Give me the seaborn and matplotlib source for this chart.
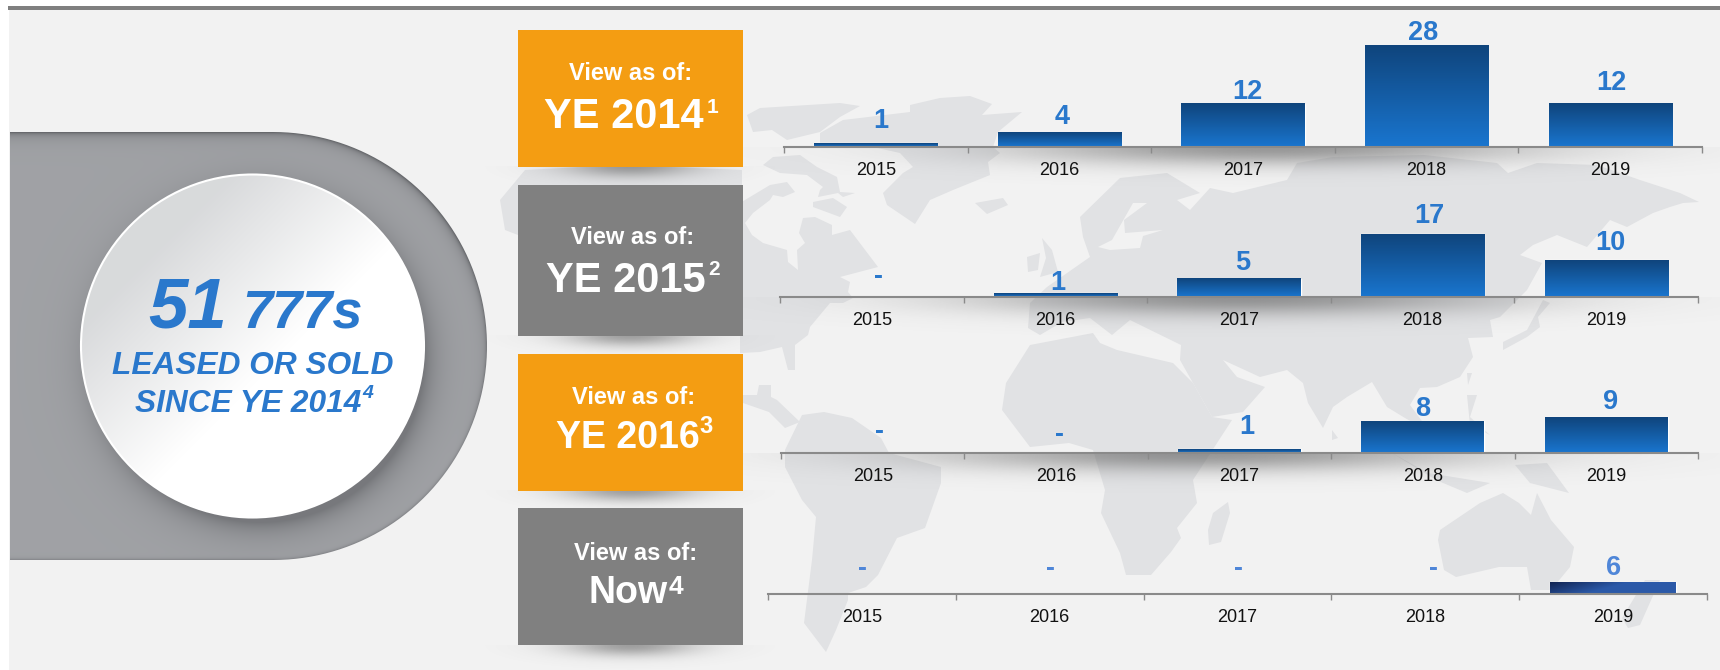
import numpy as np
import pandas as pd
import matplotlib
matplotlib.use("Agg")
import matplotlib.pyplot as plt
from matplotlib.patches import Circle, PathPatch, Polygon, Rectangle
from matplotlib.path import Path
import seaborn as sns

years = ["2015", "2016", "2017", "2018", "2019"]
values_2014 = [1, 4, 12, 28, 12]
values_2015 = [0, 1, 5, 17, 10]
values_2016 = [0, 0, 1, 8, 9]
values_now = [0, 0, 0, 0, 6]
box_titles = ["YE 2014", "YE 2015", "YE 2016", "Now"]
box_notes = ["1", "2", "3", "4"]

W, H = 1720, 670
BLUE = "#2a78cc"
LAND = "#e1e2e4"
BACK = "#f2f2f2"

# x0, x1, axis y, px per unit, label offsets (dx, gap above bar)
panels = [
    dict(values=values_2014, x0=784, x1=1702, y=147, unit=3.62, label=BLUE,
         off=[(5, 15), (3, 9), (4, 5), (-3, 6), (1, 14)]),
    dict(values=values_2015, x0=780, x1=1698, y=297, unit=3.7, label=BLUE,
         off=[(7, 13), (2, 3), (4, 9), (7, 11), (4, 10)]),
    dict(values=values_2016, x0=781, x1=1698, y=453, unit=4.0, label=BLUE,
         off=[(7, 14), (3, 11), (7, 15), (0, 5), (4, 8)]),
    dict(values=values_now, x0=768, x1=1707, y=594, unit=2.0, label="#4f86d8",
         off=[(1, 18), (1, 18), (1, 18), (8, 18), (0, 7)]),
]

# box top, bottom, colour, "View" centre x/y, title centre x, baseline, size, note x, note baseline, note size
boxes = [
    (30, 167, "#f49d12", 631, 73, 624, 128, 30, 712, 113, 15),
    (185, 336, "#808080", 633, 237, 626, 292, 30, 714, 275, 15),
    (354, 491, "#f49d12", 634, 398, 628, 448, 27, 706, 433, 17),
    (508, 645, "#808080", 636, 553, 628, 603, 27, 676, 594, 19),
]

# world map backdrop, rough outline in pixels
land = [
    # strip between and left of the boxes
    [(500, 200), (525, 170), (620, 165), (742, 170), (742, 190), (518, 190), (518, 235), (505, 230)],
    # arctic islands
    [(747, 115), (760, 108), (840, 103), (860, 106), (840, 117), (820, 132), (787, 140), (772, 130), (753, 132)],
    [(763, 165), (773, 157), (800, 155), (817, 167), (837, 177), (840, 192), (855, 193), (843, 197),
     (838, 193), (818, 197), (820, 190), (823, 187), (807, 175), (780, 173)],
    [(813, 202), (833, 198), (847, 207), (840, 217), (813, 207)],
    # greenland
    [(820, 133), (843, 120), (860, 118), (910, 112), (910, 105), (940, 98), (970, 96), (992, 104),
     (982, 115), (1022, 112), (998, 132), (993, 147), (1000, 153), (988, 162), (990, 175), (953, 190),
     (930, 200), (915, 224), (887, 205), (883, 193), (903, 173), (913, 167), (900, 153), (873, 147), (820, 146)],
    # iceland
    [(975, 203), (1003, 198), (1008, 205), (987, 214)],
    # north america
    [(740, 203), (770, 185), (787, 182), (795, 192), (783, 197), (773, 195), (770, 200), (753, 213),
     (745, 223), (752, 235), (763, 243), (787, 250), (788, 262), (798, 270), (797, 250), (805, 243),
     (799, 233), (803, 218), (815, 217), (832, 225), (832, 235), (850, 230), (878, 267), (840, 277),
     (850, 282), (848, 292), (853, 298), (843, 303), (830, 303), (810, 327), (808, 335), (795, 345),
     (795, 370), (788, 370), (782, 347), (760, 352), (740, 353)],
    # central america
    [(743, 395), (757, 395), (759, 385), (771, 385), (771, 397), (777, 400), (800, 422), (785, 428),
     (769, 412), (743, 403)],
    # south america
    [(785, 450), (802, 415), (824, 412), (852, 418), (881, 438), (889, 453), (941, 467), (941, 483),
     (925, 528), (897, 538), (878, 575), (866, 587), (848, 593), (848, 600), (836, 630), (826, 652),
     (804, 623), (812, 560), (816, 517), (802, 500), (785, 467)],
    # africa
    [(1030, 345), (1006, 383), (1002, 410), (1030, 447), (1069, 443), (1093, 450), (1105, 490),
     (1101, 513), (1120, 553), (1126, 575), (1151, 575), (1171, 552), (1181, 538), (1177, 528),
     (1197, 503), (1193, 480), (1232, 420), (1212, 417), (1193, 383), (1173, 363), (1117, 350),
     (1100, 343), (1093, 333)],
    # madagascar
    [(1228, 502), (1230, 513), (1221, 542), (1209, 545), (1208, 530), (1213, 513)],
    # eurasia
    [(1083, 237), (1080, 217), (1120, 178), (1167, 173), (1200, 193), (1177, 200), (1190, 210),
     (1210, 188), (1233, 193), (1287, 180), (1297, 163), (1333, 157), (1424, 155), (1497, 163),
     (1508, 173), (1537, 163), (1597, 165), (1640, 180), (1680, 193), (1699, 202), (1683, 203),
     (1670, 207), (1653, 213), (1627, 227), (1610, 220), (1587, 247), (1557, 235), (1533, 245),
     (1520, 255), (1542, 263), (1527, 290), (1500, 317), (1490, 320), (1493, 337), (1468, 338),
     (1473, 357), (1460, 377), (1437, 387), (1420, 388), (1410, 405), (1430, 432), (1405, 418),
     (1387, 407), (1372, 382), (1347, 397), (1333, 407), (1323, 428), (1308, 403), (1303, 383),
     (1287, 370), (1260, 377), (1223, 360), (1237, 377), (1265, 387), (1243, 412), (1212, 417),
     (1193, 383), (1180, 360), (1181, 345), (1130, 320), (1112, 335), (1090, 318), (1062, 322),
     (1040, 335), (1028, 328), (1030, 303), (1047, 287), (1090, 257)],
    # britain and ireland
    [(1042, 238), (1052, 250), (1058, 272), (1040, 277), (1046, 258)],
    [(1027, 257), (1040, 253), (1038, 270), (1028, 272)],
    # japan
    [(1543, 300), (1550, 303), (1538, 317), (1540, 327), (1527, 337), (1503, 350), (1503, 342), (1527, 330)],
    # taiwan, philippines, sri lanka
    [(1467, 373), (1472, 373), (1468, 385)],
    [(1467, 395), (1477, 395), (1470, 417), (1490, 435), (1470, 425)],
    [(1332, 430), (1338, 438), (1332, 440)],
    # south east asia islands
    [(1392, 453), (1428, 473), (1490, 483), (1467, 493), (1436, 480)],
    [(1515, 465), (1547, 463), (1569, 493), (1530, 483)],
    # australia
    [(1440, 530), (1480, 503), (1503, 493), (1519, 503), (1531, 515), (1537, 493), (1551, 520),
     (1574, 547), (1570, 567), (1551, 590), (1531, 590), (1527, 567), (1499, 567), (1456, 577),
     (1444, 570), (1438, 540)],
    # new zealand
    [(1645, 580), (1660, 580), (1640, 625), (1628, 628), (1622, 618)],
]
# baltic, cut out of the land
sea = [
    [(1133, 203), (1147, 203), (1124, 220), (1125, 233), (1163, 230), (1143, 236), (1140, 248),
     (1110, 250), (1098, 247), (1112, 240)],
]


def soft_shadow(ax, cx, y0, rx, ry, strength):
    # half gaussian hanging under y0, for the drop shadows
    xs = np.linspace(cx - 2.5 * rx, cx + 2.5 * rx, 220)
    ys = np.linspace(y0, y0 + 2.5 * ry, 60)
    xx, yy = np.meshgrid(xs, ys)
    alpha = strength * np.exp(-((xx - cx) / rx) ** 2 - ((yy - y0) / ry) ** 2)
    img = np.zeros(xx.shape + (4,))
    img[..., :3] = 0.4
    img[..., 3] = alpha
    ax.imshow(img, extent=[xs[0], xs[-1], ys[-1], ys[0]], aspect="auto", zorder=2)


def draw_backdrop(ax):
    ax.add_patch(Rectangle((9, 10), W, H, fc=BACK, ec="none", zorder=0))
    ax.add_patch(Rectangle((8, 6), W, 4, fc="#7f7f7f", ec="none", zorder=1))
    for shape in land:
        ax.add_patch(Polygon(shape, closed=True, fc=LAND, ec="none", zorder=1))
    for shape in sea:
        ax.add_patch(Polygon(shape, closed=True, fc=BACK, ec="none", zorder=1))
    for p, (cx, rx) in zip(panels[:3], [(1270, 260), (1240, 260), (1200, 270)]):
        soft_shadow(ax, cx, p["y"], rx, 18, 0.65)


def draw_pill(ax):
    left, top, bottom, cx = 10, 132, 560, 273
    r = (bottom - top) / 2
    cy = (top + bottom) / 2
    theta = np.linspace(np.pi / 2, -np.pi / 2, 90)
    verts = [(left, top)] + [(cx + r * np.cos(t), cy - r * np.sin(t)) for t in theta] + [(left, bottom), (left, top)]
    pill = PathPatch(Path(verts), fc="none", ec="none", transform=ax.transData)
    ax.add_patch(pill)
    # grey body, darker near the top and right rim, thin dark line at the bottom
    xs = np.arange(left, 490)
    ys = np.arange(top, bottom + 1)
    xx, yy = np.meshgrid(xs, ys)
    dist = np.where(xx < cx, np.minimum(yy - top, bottom - yy), r - np.hypot(xx - cx, yy - cy))
    upper = np.clip((cy + 110 - yy) / 220, 0, 1)
    shade = 0.628 - 0.13 * np.exp(-np.clip(dist, 0, None) / 6) * upper - 0.09 * np.exp(-np.clip(dist, 0, None) / 1.4)
    # shadow thrown by the disc, inside the pill only
    d_c = np.hypot(xx - 260, yy - 358)
    shade = shade - 0.16 * np.exp(-np.clip(d_c - 165, 0, None) / 14)
    img = np.dstack([shade, shade + 0.006, shade + 0.02])
    im = ax.imshow(np.clip(img, 0, 1), extent=[xs[0], xs[-1], ys[-1], ys[0]], aspect="auto", zorder=3)
    im.set_clip_path(pill)
    # the disc
    dx, dy, rad = 252.5, 346, 171.5
    xs = np.arange(dx - rad, dx + rad + 1)
    ys = np.arange(dy - rad, dy + rad + 1)
    xx, yy = np.meshgrid(xs, ys)
    t = np.clip(((xx - dx) + (yy - dy) + 190) / 230, 0, 1)
    g = 0.85 + 0.15 * t
    im = ax.imshow(np.dstack([g, g + 0.005 * (1 - t), g + 0.012 * (1 - t)]).clip(0, 1),
                   extent=[xs[0], xs[-1], ys[-1], ys[0]], aspect="auto", zorder=4)
    disc = Circle((dx, dy), rad, fc="none", ec="white", lw=1.5, zorder=5)
    ax.add_patch(disc)
    im.set_clip_path(disc)
    ax.text(188, 327, "51", color=BLUE, fontsize=51, fontweight="bold", style="italic", ha="center", va="baseline", zorder=6)
    ax.text(302, 327, "777s", color=BLUE, fontsize=39, fontweight="bold", style="italic", ha="center", va="baseline", zorder=6)
    ax.text(253, 374, "LEASED OR SOLD", color=BLUE, fontsize=22.8, fontweight="bold", style="italic", ha="center", va="baseline", zorder=6)
    ax.text(248, 412, "SINCE YE 2014", color=BLUE, fontsize=22.8, fontweight="bold", style="italic", ha="center", va="baseline", zorder=6)
    ax.text(368, 398, "4", color=BLUE, fontsize=14, fontweight="bold", style="italic", ha="center", va="baseline", zorder=6)


def draw_boxes(ax):
    for (top, bot, col, vx, vy, tx, ty, size, nx, ny, nsize), title, note in zip(boxes, box_titles, box_notes):
        soft_shadow(ax, 630, bot, 65, 11, 0.6)
        ax.add_patch(Rectangle((518, top), 225, bot - top, fc=col, ec="none", zorder=4))
        ax.text(vx, vy, "View as of:", color="white", fontsize=17, fontweight="bold", ha="center", va="center", zorder=5)
        ax.text(tx, ty, title, color="white", fontsize=size, fontweight="bold", ha="center", va="baseline", zorder=5)
        ax.text(nx, ny, note, color="white", fontsize=nsize, fontweight="bold", ha="center", va="baseline", zorder=5)


def fill_bars(ax, last):
    # blue gradient painted over the seaborn bars
    for bar in ax.patches:
        h = bar.get_height()
        if h <= 0:
            continue
        v = np.linspace(0, 1, 40)[:, None]
        if last:
            u = np.linspace(0, 1, 120)[None, :]
            t = np.clip(v * 0.55 + u * 1.6, 0, 1)
            top, low = np.array([0.07, 0.14, 0.32]), np.array([0.17, 0.35, 0.66])
        else:
            t = np.repeat(v, 2, axis=1)
            top, low = np.array([0.06, 0.27, 0.49]), np.array([0.10, 0.46, 0.81])
        img = top + (low - top) * t[..., None]
        ax.imshow(img, extent=[bar.get_x(), bar.get_x() + bar.get_width(), 0, h], aspect="auto", zorder=3)


def draw_panel(fig, p, last):
    height = 120
    ax = fig.add_axes([p["x0"] / W, 1 - p["y"] / H, (p["x1"] - p["x0"]) / W, height / H], zorder=3)
    df = pd.DataFrame({"year": years, "value": p["values"]})
    sns.barplot(data=df, x="year", y="value", ax=ax, width=0.67, color="#1a5fa8", saturation=1, errorbar=None)
    fill_bars(ax, last)
    ax.set_xlim(-0.5, 4.5)
    ax.set_ylim(0, height / p["unit"])
    ax.patch.set_visible(False)
    ax.set_xlabel("")
    ax.set_ylabel("")
    ax.set_yticks([])
    sns.despine(ax=ax, left=True)
    ax.spines["bottom"].set_color("#8a8a8a")
    ax.spines["bottom"].set_linewidth(1.5)
    ax.spines["bottom"].set_zorder(5)
    ax.set_xticks(np.arange(-0.5, 5), labels=[])
    ax.set_xticks(range(5), labels=years, minor=True)
    ax.tick_params(axis="x", which="major", bottom=True, length=4.5, width=1, color="#8a8a8a", direction="out")
    ax.tick_params(axis="x", which="minor", bottom=False, length=0, pad=10.5, labelsize=13, labelcolor="#111111")
    for i, (val, (dx, gap)) in enumerate(zip(p["values"], p["off"])):
        ax.annotate(str(val) if val else "-", xy=(i, val), xytext=(dx, gap), textcoords="offset pixels",
                    color=p["label"], fontsize=19.5, fontweight="bold", ha="center", va="baseline",
                    annotation_clip=False)


sns.set_theme(style="white")
plt.rcParams["font.family"] = ["Liberation Sans", "DejaVu Sans"]

fig = plt.figure(figsize=(W / 100, H / 100), dpi=100, facecolor="white")
bg = fig.add_axes([0, 0, 1, 1], zorder=0)
draw_backdrop(bg)
draw_pill(bg)
draw_boxes(bg)
bg.set_xlim(0, W)
bg.set_ylim(H, 0)
bg.axis("off")

for n, panel in enumerate(panels):
    draw_panel(fig, panel, n == len(panels) - 1)

fig.savefig("out.png", dpi=100, facecolor="white")
